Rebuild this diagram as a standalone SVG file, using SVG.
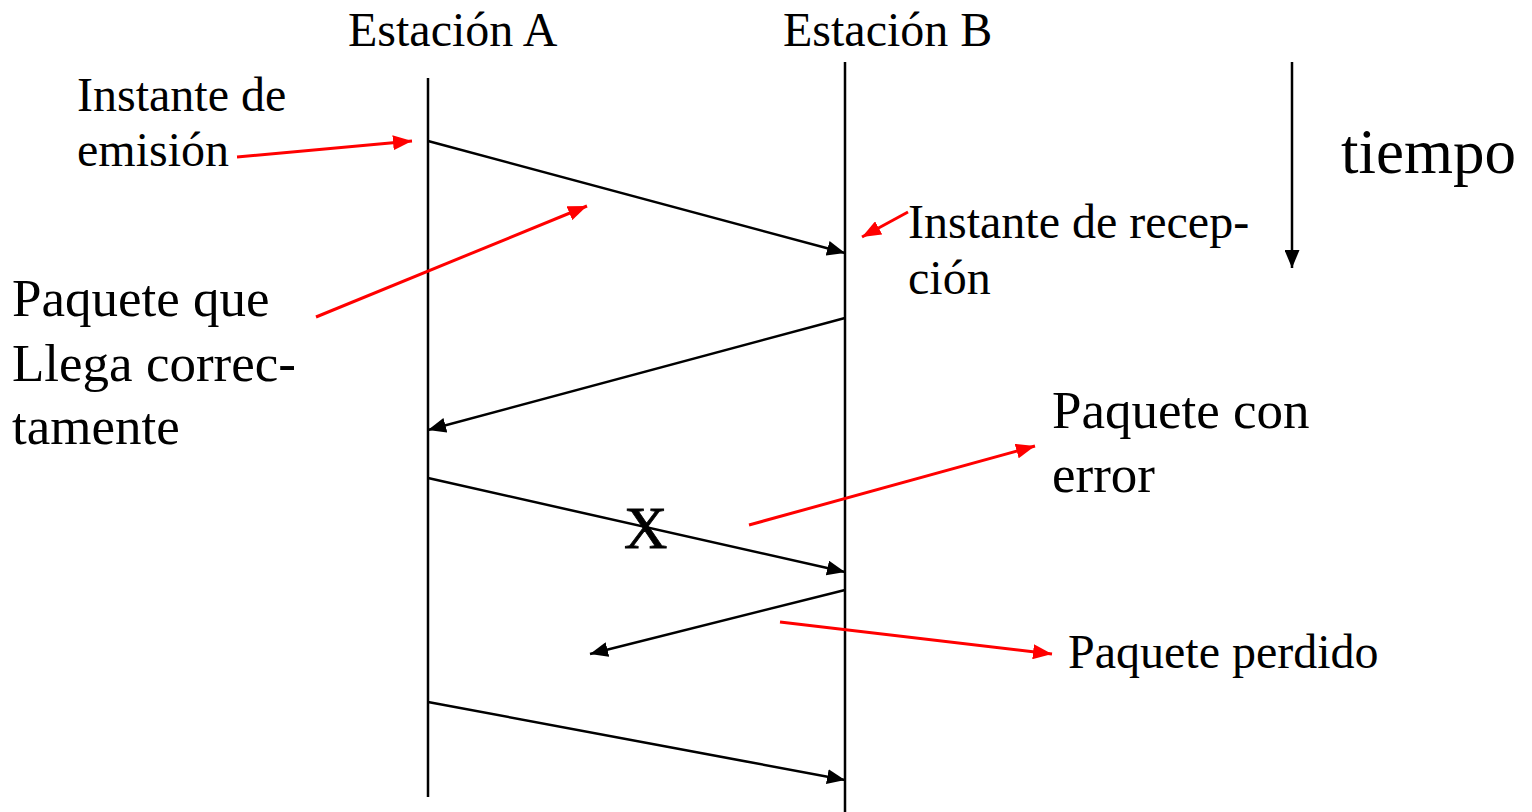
<svg xmlns="http://www.w3.org/2000/svg" width="1532" height="812" viewBox="0 0 1532 812">
<style>
text{font-family:"Liberation Serif","Times New Roman",serif;fill:#000}
.t48{font-size:48px}
.t53{font-size:53px}
.blk{stroke:#000;stroke-width:2.5;fill:none}
.red{stroke:#f00;stroke-width:3;fill:none}
</style>
<defs>
<marker id="abk" markerUnits="userSpaceOnUse" markerWidth="18" markerHeight="15" viewBox="0 0 18 15" refX="18" refY="7.5" orient="auto"><path d="M0,0 L18,7.5 L0,15 z" fill="#000"/></marker>
<marker id="ar" markerUnits="userSpaceOnUse" markerWidth="19" markerHeight="15" viewBox="0 0 19 15" refX="19" refY="7.5" orient="auto"><path d="M0,0 L19,7.5 L0,15 z" fill="#f00"/></marker>
</defs>
<g id="stationA">
<text class="t48" x="348" y="46">Estación A</text>
<line class="blk" x1="428" y1="78" x2="428" y2="797"/>
</g>
<g id="stationB">
<text class="t48" x="783" y="46">Estación B</text>
<line class="blk" x1="845" y1="62" x2="845" y2="812"/>
</g>
<g id="time">
<line class="blk" x1="1292" y1="62" x2="1292" y2="268" marker-end="url(#abk)"/>
<text x="1341" y="173" font-size="63px">tiempo</text>
</g>
<g id="label-emision">
<text class="t48" x="77" y="111">Instante de</text>
<text class="t48" x="77" y="166">emisión</text>
</g>
<g id="label-correcto">
<text class="t53" x="12" y="316">Paquete que</text>
<text class="t53" x="12" y="381">Llega correc-</text>
<text class="t53" x="12" y="444">tamente</text>
</g>
<g id="label-recepcion">
<text class="t48" x="908" y="238">Instante de recep-</text>
<text class="t48" x="908" y="294">ción</text>
</g>
<g id="label-error">
<text class="t53" x="1052" y="428">Paquete con</text>
<text class="t53" x="1052" y="492">error</text>
</g>
<g id="label-perdido">
<text class="t48" x="1068" y="668">Paquete perdido</text>
</g>
<g id="mark-x">
<text x="624" y="548" font-size="60px" stroke="#000" stroke-width="0.8">X</text>
</g>
<g id="connectors">
<line class="blk" x1="428" y1="141" x2="845" y2="253" marker-end="url(#abk)"/>
<line class="blk" x1="845" y1="318" x2="428" y2="430" marker-end="url(#abk)"/>
<line class="blk" x1="428" y1="478" x2="845" y2="572" marker-end="url(#abk)"/>
<line class="blk" x1="845" y1="590" x2="590" y2="654" marker-end="url(#abk)"/>
<line class="blk" x1="428" y1="702" x2="845" y2="780" marker-end="url(#abk)"/>
<line class="red" x1="237" y1="157" x2="412" y2="141" marker-end="url(#ar)"/>
<line class="red" x1="316" y1="317" x2="587" y2="206" marker-end="url(#ar)"/>
<line class="red" x1="908" y1="212" x2="862" y2="237" marker-end="url(#ar)"/>
<line class="red" x1="749" y1="525" x2="1035" y2="446" marker-end="url(#ar)"/>
<line class="red" x1="780" y1="622" x2="1052" y2="654" marker-end="url(#ar)"/>
</g>
</svg>
